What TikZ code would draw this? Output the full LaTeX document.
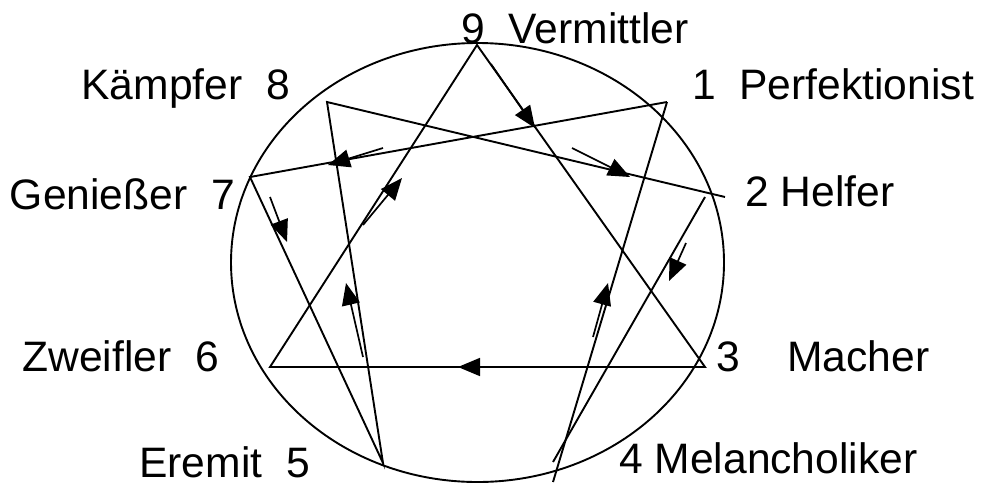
\documentclass[tikz,border=0pt]{standalone}
\usepackage{fontspec}
\setmainfont{Liberation Sans}
\usetikzlibrary{arrows.meta}
\begin{document}
\begin{tikzpicture}[x=1pt,y=-1pt,
  ln/.style={line width=1.9pt, line join=miter},
  arr/.style={line width=1.7pt, -{Triangle[length=22pt,width=18pt]}},
  lbl/.style={inner sep=0pt, font=\fontsize{42.6}{50}\selectfont}]
\useasboundingbox (0,0) rectangle (981,485);
% vertices
\coordinate (p9) at (477,45);
\coordinate (p1) at (667,102);
\coordinate (p2a) at (705,197);
\coordinate (p2b) at (725,197);
\coordinate (p3) at (705,367);
\coordinate (p4a) at (553,462);
\coordinate (p4b) at (553,482);
\coordinate (p5) at (383,463);
\coordinate (p6) at (270,367);
\coordinate (p7) at (250,177);
\coordinate (p8) at (327,102);
% circle
\draw[ln] (477.5,262.5) ellipse [x radius=246.5pt, y radius=219.5pt];
% triangle
\draw[ln] (p9) -- (p3) -- (p6) -- cycle;
% hexad
\draw[ln] (p1) -- (p4b);
\draw[ln] (p4a) -- (p2a);
\draw[ln] (p2b) -- (p8) -- (p5) -- (p7) -- (p1);
% arrows
\coordinate (a93s) at (491,64);  \coordinate (a93t) at (535,128);
\coordinate (a17s) at (383,148); \coordinate (a17t) at (328,165);
\coordinate (a75s) at (270,197); \coordinate (a75t) at (287,242);
\coordinate (a58s) at (363,357); \coordinate (a58t) at (346,283);
\coordinate (a82s) at (572,148); \coordinate (a82t) at (630,177);
\coordinate (a24s) at (686,243); \coordinate (a24t) at (669,281);
\coordinate (a41s) at (593,337); \coordinate (a41t) at (608,283);
\coordinate (a36s) at (535,367); \coordinate (a36t) at (458,367);
\coordinate (a69s) at (363,225); \coordinate (a69t) at (402,178);
\foreach \a in {93,17,75,58,82,24,41,36,69}
  \draw[arr] (a\a s) -- (a\a t);
% labels
\node[lbl, anchor=base west] (l9) at (461,43) {9~~Vermittler};
\node[lbl, anchor=base west] (l1) at (692,99) {1~~Perfektionist};
\node[lbl, anchor=base west] (l2) at (745,206) {2 Helfer};
\node[lbl, anchor=base west] (l3) at (716,371) {3~~~~Macher};
\node[lbl, anchor=base west] (l4) at (619,473) {4 Melancholiker};
\node[lbl, anchor=base east] (l5) at (310,477) {Eremit~~5};
\node[lbl, anchor=base east] (l6) at (219,371) {Zweifler~~6};
\node[lbl, anchor=base east] (l7) at (235,209) {Genießer~~7};
\node[lbl, anchor=base east] (l8) at (290,99) {Kämpfer~~8};
\end{tikzpicture}
\end{document}
